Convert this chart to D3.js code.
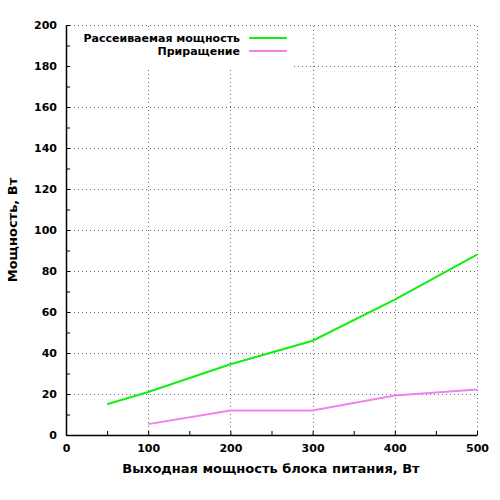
<!DOCTYPE html>
<html>
<head>
<meta charset="utf-8">
<script src="https://cdn.jsdelivr.net/npm/d3@7"></script>
<style>
  body { margin: 0; background: #fff; }
  text { font-family: "DejaVu Sans", Verdana, sans-serif; font-weight: bold; fill: #000; }
</style>
</head>
<body>
<div id="main"></div>
<script>
// данные
var dissX = [50, 100, 200, 300, 400, 500];
var dissY = [15, 21, 34.5, 46, 66, 88];
var incX = [100, 200, 300, 400, 500];
var incY = [5.3, 12, 12, 19.3, 22.2];
var xTicks = [0, 100, 200, 300, 400, 500];
var yTicks = [0, 20, 40, 60, 80, 100, 120, 140, 160, 180, 200];
var seriesNames = ['Рассеиваемая мощность', 'Приращение'];
var seriesColors = ['#11ee11', '#ee82ee'];

var svg = d3.select('#main').append('svg').attr('width', 500).attr('height', 500);

var x = d3.scaleLinear().domain([0, 500]).range([66, 477]);
var y = d3.scaleLinear().domain([0, 200]).range([435, 25]);

// сетка
var grid = svg.append('g').attr('stroke', '#666').attr('stroke-width', 1).attr('stroke-dasharray', '1,3');
grid.selectAll('line.v').data(xTicks.slice(1)).enter().append('line')
    .attr('x1', d => Math.round(x(d)) + 0.5).attr('x2', d => Math.round(x(d)) + 0.5)
    .attr('y1', y(0)).attr('y2', y(200));
grid.selectAll('line.h').data(yTicks.slice(1)).enter().append('line')
    .attr('x1', x(0)).attr('x2', x(500))
    .attr('y1', d => Math.round(y(d)) + 0.5).attr('y2', d => Math.round(y(d)) + 0.5);

// фон легенды
svg.append('rect').attr('x', 67).attr('y', 27).attr('width', 226).attr('height', 42).attr('fill', '#fff');

// оси
var xAxis = d3.axisBottom(x).tickValues(d3.range(0, 501, 50)).tickSizeInner(-4).tickSizeOuter(0)
    .tickFormat(d => d % 100 === 0 ? d : '');
var gx = svg.append('g').attr('transform', 'translate(0,' + y(0) + ')').call(xAxis);
gx.select('.domain').attr('stroke-width', 1.5);
gx.selectAll('text').attr('dy', '1.3em').style('font-size', '11px');

var yAxis = d3.axisLeft(y).tickValues(d3.range(0, 201, 10)).tickSizeInner(-4).tickSizeOuter(0)
    .tickFormat(d => d % 20 === 0 ? d : '');
var gy = svg.append('g').attr('transform', 'translate(' + x(0) + ',0)').call(yAxis);
gy.select('.domain').attr('stroke-width', 1.5);
gy.selectAll('text').attr('x', -9).style('font-size', '11px');
svg.selectAll('.tick line').attr('stroke', '#000');
svg.selectAll('.domain').attr('stroke', '#000');

// линии
var line = d3.line().x(d => x(d[0])).y(d => y(d[1]));
svg.append('path').datum(d3.zip(dissX, dissY)).attr('d', line)
    .attr('fill', 'none').attr('stroke', seriesColors[0]).attr('stroke-width', 2);
svg.append('path').datum(d3.zip(incX, incY)).attr('d', line)
    .attr('fill', 'none').attr('stroke', seriesColors[1]).attr('stroke-width', 2);

// легенда
var leg = svg.append('g').selectAll('g').data(seriesNames).enter().append('g')
    .attr('transform', (d, i) => 'translate(0,' + (38 + i * 13) + ')');
leg.append('text').attr('x', 240).attr('y', 0).attr('dy', '0.35em')
    .attr('text-anchor', 'end').style('font-size', '11px').text(d => d);
leg.append('line').attr('x1', 249).attr('x2', 287).attr('y1', 0).attr('y2', 0)
    .attr('stroke', (d, i) => seriesColors[i]).attr('stroke-width', 2);

// подписи осей
svg.append('text').attr('x', 271).attr('y', 473).attr('text-anchor', 'middle')
    .style('font-size', '13px').text('Выходная мощность блока питания, Вт');
svg.append('text').attr('transform', 'translate(17,230) rotate(-90)').attr('text-anchor', 'middle')
    .style('font-size', '13px').text('Мощность, Вт');
</script>
</body>
</html>
